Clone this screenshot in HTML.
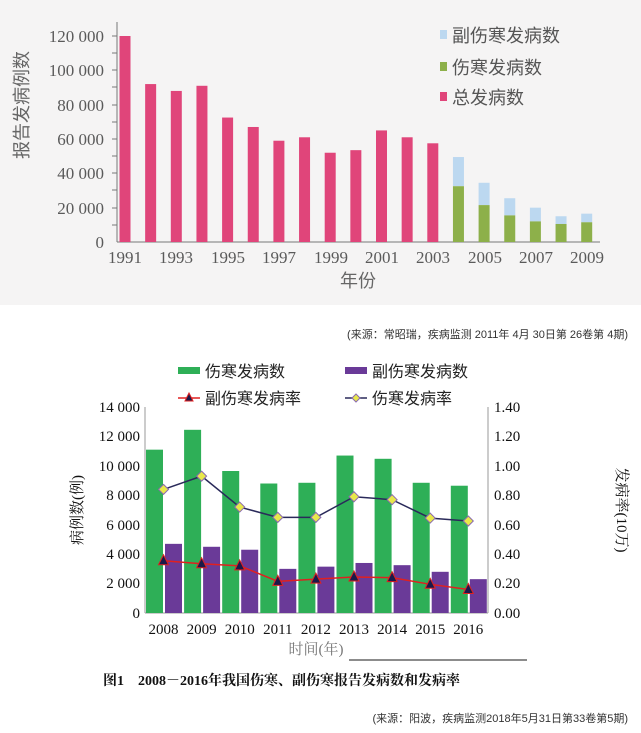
<!DOCTYPE html>
<html><head><meta charset="utf-8"><style>
body{margin:0;background:#fff;}
svg{display:block;}
</style></head><body>
<svg width="641" height="733" viewBox="0 0 641 733" xmlns="http://www.w3.org/2000/svg">
<rect x="0" y="0" width="641" height="305" fill="#f5f4f4"/>
<!-- TOP CHART -->
<g font-family="Liberation Serif, serif" font-size="17" fill="#5a5a5a" text-anchor="end">
<text x="104" y="42">120 000</text>
<text x="104" y="76">100 000</text>
<text x="104" y="111">80 000</text>
<text x="104" y="145">60 000</text>
<text x="104" y="179">40 000</text>
<text x="104" y="214">20 000</text>
<text x="104" y="248">0</text>
</g>
<line x1="117" y1="22" x2="117" y2="242" stroke="#777" stroke-width="1"/>
<line x1="117" y1="242" x2="600" y2="242" stroke="#777" stroke-width="1"/>
<g stroke="#777" stroke-width="1">
<line x1="112" y1="36" x2="117" y2="36"/><line x1="112" y1="53" x2="117" y2="53"/>
<line x1="112" y1="70" x2="117" y2="70"/><line x1="112" y1="87" x2="117" y2="87"/>
<line x1="112" y1="105" x2="117" y2="105"/><line x1="112" y1="122" x2="117" y2="122"/>
<line x1="112" y1="139" x2="117" y2="139"/><line x1="112" y1="156" x2="117" y2="156"/>
<line x1="112" y1="173" x2="117" y2="173"/><line x1="112" y1="190" x2="117" y2="190"/>
<line x1="112" y1="208" x2="117" y2="208"/><line x1="112" y1="225" x2="117" y2="225"/>
</g>
<text transform="translate(28,105) rotate(-90)" font-family="Liberation Sans, Noto Sans CJK SC, sans-serif" font-size="18" fill="#666" text-anchor="middle">报告发病例数</text>
<g font-family="Liberation Serif, serif" font-size="17" fill="#5a5a5a" text-anchor="middle">
<text x="125" y="263">1991</text><text x="176" y="263">1993</text><text x="228" y="263">1995</text>
<text x="279" y="263">1997</text><text x="331" y="263">1999</text><text x="382" y="263">2001</text>
<text x="433" y="263">2003</text><text x="485" y="263">2005</text><text x="536" y="263">2007</text>
<text x="587" y="263">2009</text>
</g>
<text x="358" y="287" font-family="Liberation Sans, Noto Sans CJK SC, sans-serif" font-size="18" fill="#666" text-anchor="middle">年份</text>
<g font-family="Liberation Sans, Noto Sans CJK SC, sans-serif" font-size="18" fill="#555">
<rect x="440" y="30" width="7" height="9" fill="#bcd8f0"/><text x="452" y="42">副伤寒发病数</text>
<rect x="440" y="62" width="7" height="9" fill="#8db04a"/><text x="452" y="74">伤寒发病数</text>
<rect x="440" y="92" width="7" height="9" fill="#e0457a"/><text x="452" y="104">总发病数</text>
</g>
<g id="topbars"></g>
<text x="628" y="338" font-family="Liberation Sans, Noto Sans CJK SC, sans-serif" font-size="11" fill="#333" text-anchor="end">(来源：常昭瑞，疾病监测 2011年 4月 30日第 26卷第 4期)</text>

<!-- BOTTOM CHART -->
<g font-family="Liberation Sans, Noto Sans CJK SC, sans-serif" font-size="16" fill="#222">
<rect x="178" y="367" width="22" height="7" fill="#2eaf57"/><text x="205" y="377">伤寒发病数</text>
<rect x="345" y="367" width="22" height="7" fill="#6a3a98"/><text x="372" y="377">副伤寒发病数</text>
<line x1="178" y1="398" x2="200" y2="398" stroke="#e02020" stroke-width="1.5"/>
<polygon points="189,393 193,401 185,401" fill="#1a1a4a" stroke="#e02020"/>
<text x="205" y="404">副伤寒发病率</text>
<line x1="345" y1="398" x2="367" y2="398" stroke="#2a2a5a" stroke-width="1.5"/>
<polygon points="356,394 360,398 356,402 352,398" fill="#e8e84a" stroke="#8a6ab0"/>
<text x="372" y="404">伤寒发病率</text>
</g>
<line x1="145" y1="407" x2="145" y2="613" stroke="#999"/>
<line x1="488" y1="407" x2="488" y2="613" stroke="#999"/>
<line x1="145" y1="613" x2="488" y2="613" stroke="#999"/>
<g font-family="Liberation Serif, serif" font-size="15" fill="#111">
<g text-anchor="end">
<text x="140" y="412">14 000</text><text x="140" y="441">12 000</text><text x="140" y="471">10 000</text>
<text x="140" y="500">8 000</text><text x="140" y="530">6 000</text><text x="140" y="559">4 000</text>
<text x="140" y="588">2 000</text><text x="140" y="618">0</text>
</g>
<text x="494" y="412">1.40</text><text x="494" y="441">1.20</text><text x="494" y="471">1.00</text>
<text x="494" y="500">0.80</text><text x="494" y="530">0.60</text><text x="494" y="559">0.40</text>
<text x="494" y="588">0.20</text><text x="494" y="618">0.00</text>
<g text-anchor="middle" id="byears"></g>
</g>
<g id="bbars"></g>
<text transform="translate(82,510) rotate(-90)" font-family="Liberation Serif, Noto Serif CJK SC, serif" font-size="15" fill="#111" text-anchor="middle">病例数(例)</text>
<text transform="translate(617,510) rotate(90)" font-family="Liberation Serif, Noto Serif CJK SC, serif" font-size="15" fill="#111" text-anchor="middle">发病率(10万)</text>
<text x="316" y="654" font-family="Liberation Serif, Noto Serif CJK SC, serif" font-size="15" fill="#777" text-anchor="middle">时间(年)</text>
<line x1="349" y1="660" x2="527" y2="660" stroke="#666" stroke-width="1.5"/>
<text x="103" y="685" font-family="Liberation Serif, Noto Serif CJK SC, serif" font-size="14" font-weight="bold" fill="#111">图1　2008－2016年我国伤寒、副伤寒报告发病数和发病率</text>
<text x="628" y="722" font-family="Liberation Sans, Noto Sans CJK SC, sans-serif" font-size="11" fill="#333" text-anchor="end">(来源：阳波，疾病监测2018年5月31日第33卷第5期)</text>
</svg>
<script>
var NS="http://www.w3.org/2000/svg";
function el(p,t,a){var e=document.createElementNS(NS,t);for(var k in a)e.setAttribute(k,a[k]);p.appendChild(e);return e;}
var tb=document.getElementById("topbars");
var k=206/120000;
var pink=[120000,92000,88000,91000,72500,67000,59000,61000,52000,53500,65000,61000,57500];
for(var i=0;i<pink.length;i++){var c=125+25.65*i;el(tb,"rect",{x:c-5.5,y:242-pink[i]*k,width:11,height:pink[i]*k,fill:"#e0457a"});}
var tot=[49500,34500,25500,20000,15000,16500],gr=[32500,21500,15500,12000,10500,11500];
for(var j=0;j<6;j++){var c=125+25.65*(13+j);
el(tb,"rect",{x:c-5.5,y:242-tot[j]*k,width:11,height:(tot[j]-gr[j])*k,fill:"#bcd8f0"});
el(tb,"rect",{x:c-5.5,y:242-gr[j]*k,width:11,height:gr[j]*k,fill:"#8db04a"});}
var bb=document.getElementById("bbars"),by=document.getElementById("byears");
var g=[11100,12450,9650,8800,8850,10700,10480,8850,8650],p=[4700,4500,4300,3000,3150,3400,3250,2800,2300];
var y1=[0.84,0.93,0.72,0.65,0.65,0.79,0.77,0.645,0.625],r1=[0.355,0.335,0.32,0.215,0.23,0.245,0.24,0.195,0.16];
var s=206/14000,rs=206/1.4;
var yl="",rl="";
for(var i=0;i<9;i++){var x0=146+38.1*i;
el(bb,"rect",{x:x0,y:613-g[i]*s,width:17,height:g[i]*s,fill:"#2eaf57"});
el(bb,"rect",{x:x0+19,y:613-p[i]*s,width:17,height:p[i]*s,fill:"#6a3a98"});
var cx=x0+17.5;yl+=cx+","+(613-y1[i]*rs)+" ";rl+=cx+","+(613-r1[i]*rs)+" ";
var t=el(by,"text",{x:cx,y:634});t.textContent=2008+i;}
el(bb,"polyline",{points:yl,fill:"none",stroke:"#2a2a5a","stroke-width":1.5});
el(bb,"polyline",{points:rl,fill:"none",stroke:"#e02020","stroke-width":1.5});
for(var i=0;i<9;i++){var cx=146+38.1*i+17.5,yy=613-y1[i]*rs,ry=613-r1[i]*rs;
el(bb,"polygon",{points:cx+","+(yy-5)+" "+(cx+5)+","+yy+" "+cx+","+(yy+5)+" "+(cx-5)+","+yy,fill:"#e8e84a",stroke:"#8a6ab0"});
el(bb,"polygon",{points:cx+","+(ry-6)+" "+(cx+5)+","+(ry+4)+" "+(cx-5)+","+(ry+4),fill:"#1a1a4a",stroke:"#e02020"});}
</script>
</body></html>
